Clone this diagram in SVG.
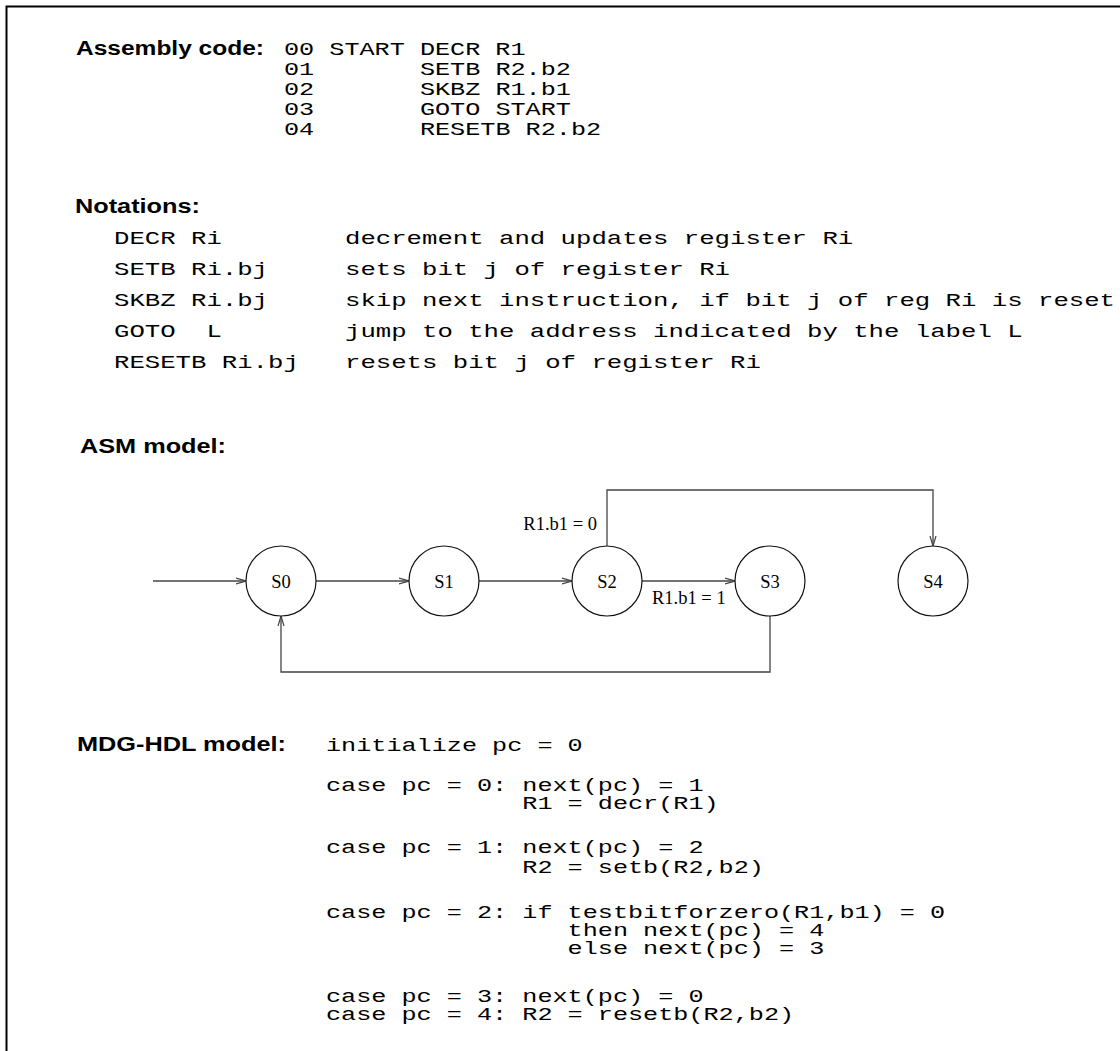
<svg xmlns="http://www.w3.org/2000/svg" width="1120" height="1051" viewBox="0 0 1120 1051">
  <defs>
    <style>
      .lbl { font-family: "Liberation Sans", Arial, sans-serif; font-weight: bold; font-size: 20px; fill: #000; }
      .mono { font-family: "Liberation Mono", "Courier New", monospace; font-size: 19px; fill: #000; }
      .tm { font-family: "Liberation Serif", "Times New Roman", serif; font-size: 18.5px; fill: #000; }
      .state circle { fill: #fff; stroke: #111; stroke-width: 1.2; }
      .conn { fill: none; stroke: #444; stroke-width: 1.3; }
      .frame { fill: none; stroke: #000; stroke-width: 2; }
    </style>
    <marker id="arr" viewBox="0 -4 10 8" refX="10" refY="0" markerWidth="10" markerHeight="8" markerUnits="userSpaceOnUse" orient="auto">
      <path d="M0,-3 L10,0 L0,3" fill="none" stroke="#444" stroke-width="1.2"/>
    </marker>
  </defs>

  <rect width="1120" height="1051" fill="#fff"/>
  <path class="frame" d="M6.5,1051 V6.5 H1120"/>

  <!-- assembly listing: address, label and instruction columns -->
  <g id="assembly">
    <text class="lbl" x="76" y="55" textLength="188" lengthAdjust="spacingAndGlyphs">Assembly code:</text>
    <g class="mono">
      <text x="284" y="55" textLength="30.2" lengthAdjust="spacingAndGlyphs">00</text>
      <text x="329.3" y="55" textLength="75.5" lengthAdjust="spacingAndGlyphs">START</text>
      <text x="419.9" y="55" textLength="105.7" lengthAdjust="spacingAndGlyphs">DECR R1</text>
      <text x="284" y="75" textLength="30.2" lengthAdjust="spacingAndGlyphs">01</text>
      <text x="419.9" y="75" textLength="151" lengthAdjust="spacingAndGlyphs">SETB R2.b2</text>
      <text x="284" y="95" textLength="30.2" lengthAdjust="spacingAndGlyphs">02</text>
      <text x="419.9" y="95" textLength="151" lengthAdjust="spacingAndGlyphs">SKBZ R1.b1</text>
      <text x="284" y="115" textLength="30.2" lengthAdjust="spacingAndGlyphs">03</text>
      <text x="419.9" y="115" textLength="151" lengthAdjust="spacingAndGlyphs">GOTO START</text>
      <text x="284" y="135" textLength="30.2" lengthAdjust="spacingAndGlyphs">04</text>
      <text x="419.9" y="135" textLength="181.2" lengthAdjust="spacingAndGlyphs">RESETB R2.b2</text>
    </g>
  </g>

  <!-- notation table: mnemonic column and description column -->
  <g id="notations">
    <text class="lbl" x="75" y="213" textLength="125" lengthAdjust="spacingAndGlyphs">Notations:</text>
    <g class="mono">
      <text x="114" y="244" textLength="107.8" lengthAdjust="spacingAndGlyphs">DECR Ri</text>
      <text x="345" y="244" textLength="508.2" lengthAdjust="spacingAndGlyphs">decrement and updates register Ri</text>
      <text x="114" y="275" textLength="154" lengthAdjust="spacingAndGlyphs">SETB Ri.bj</text>
      <text x="345" y="275" textLength="385" lengthAdjust="spacingAndGlyphs">sets bit j of register Ri</text>
      <text x="114" y="306" textLength="154" lengthAdjust="spacingAndGlyphs">SKBZ Ri.bj</text>
      <text x="345" y="306" textLength="770" lengthAdjust="spacingAndGlyphs">skip next instruction, if bit j of reg Ri is reset</text>
      <text x="114" y="337" textLength="61.6" lengthAdjust="spacingAndGlyphs">GOTO</text>
      <text x="206.4" y="337" textLength="15.4" lengthAdjust="spacingAndGlyphs">L</text>
      <text x="345" y="337" textLength="677.6" lengthAdjust="spacingAndGlyphs">jump to the address indicated by the label L</text>
      <text x="114" y="368" textLength="184.8" lengthAdjust="spacingAndGlyphs">RESETB Ri.bj</text>
      <text x="345" y="368" textLength="415.8" lengthAdjust="spacingAndGlyphs">resets bit j of register Ri</text>
    </g>
  </g>

  <!-- state machine -->
  <text id="asm-title" class="lbl" x="80" y="453" textLength="146" lengthAdjust="spacingAndGlyphs">ASM model:</text>

  <g id="connectors">
    <line class="conn" x1="153" y1="581" x2="246" y2="581" marker-end="url(#arr)"/>
    <line class="conn" x1="316" y1="581" x2="409" y2="581" marker-end="url(#arr)"/>
    <line class="conn" x1="479" y1="581" x2="572" y2="581" marker-end="url(#arr)"/>
    <line class="conn" x1="642" y1="581" x2="735" y2="581" marker-end="url(#arr)"/>
    <polyline class="conn" points="607,546 607,490 933,490 933,546" marker-end="url(#arr)"/>
    <polyline class="conn" points="770,616 770,672 281,672 281,616" marker-end="url(#arr)"/>
    <text class="tm" x="597" y="530" text-anchor="end">R1.b1 = 0</text>
    <text class="tm" x="652" y="604">R1.b1 = 1</text>
  </g>

  <g id="S0" class="state"><circle cx="281" cy="581" r="35"/><text class="tm" x="281" y="587.5" text-anchor="middle">S0</text></g>
  <g id="S1" class="state"><circle cx="444" cy="581" r="35"/><text class="tm" x="444" y="587.5" text-anchor="middle">S1</text></g>
  <g id="S2" class="state"><circle cx="607" cy="581" r="35"/><text class="tm" x="607" y="587.5" text-anchor="middle">S2</text></g>
  <g id="S3" class="state"><circle cx="770" cy="581" r="35"/><text class="tm" x="770" y="587.5" text-anchor="middle">S3</text></g>
  <g id="S4" class="state"><circle cx="933" cy="581" r="35"/><text class="tm" x="933" y="587.5" text-anchor="middle">S4</text></g>

  <!-- MDG-HDL description: case column and action column -->
  <g id="mdg">
    <text class="lbl" x="77" y="751" textLength="209" lengthAdjust="spacingAndGlyphs">MDG-HDL model:</text>
    <g class="mono">
      <text x="326" y="751" textLength="256.7" lengthAdjust="spacingAndGlyphs">initialize pc = 0</text>
      <text x="326" y="791" textLength="181.2" lengthAdjust="spacingAndGlyphs">case pc = 0:</text>
      <text x="522.3" y="791" textLength="181.2" lengthAdjust="spacingAndGlyphs">next(pc) = 1</text>
      <text x="522.3" y="809" textLength="196.3" lengthAdjust="spacingAndGlyphs">R1 = decr(R1)</text>
      <text x="326" y="853" textLength="181.2" lengthAdjust="spacingAndGlyphs">case pc = 1:</text>
      <text x="522.3" y="853" textLength="181.2" lengthAdjust="spacingAndGlyphs">next(pc) = 2</text>
      <text x="522.3" y="873" textLength="241.6" lengthAdjust="spacingAndGlyphs">R2 = setb(R2,b2)</text>
      <text x="326" y="918" textLength="181.2" lengthAdjust="spacingAndGlyphs">case pc = 2:</text>
      <text x="522.3" y="918" textLength="422.8" lengthAdjust="spacingAndGlyphs">if testbitforzero(R1,b1) = 0</text>
      <text x="567.6" y="936" textLength="256.7" lengthAdjust="spacingAndGlyphs">then next(pc) = 4</text>
      <text x="567.6" y="954" textLength="256.7" lengthAdjust="spacingAndGlyphs">else next(pc) = 3</text>
      <text x="326" y="1002" textLength="181.2" lengthAdjust="spacingAndGlyphs">case pc = 3:</text>
      <text x="522.3" y="1002" textLength="181.2" lengthAdjust="spacingAndGlyphs">next(pc) = 0</text>
      <text x="326" y="1020" textLength="181.2" lengthAdjust="spacingAndGlyphs">case pc = 4:</text>
      <text x="522.3" y="1020" textLength="271.8" lengthAdjust="spacingAndGlyphs">R2 = resetb(R2,b2)</text>
    </g>
  </g>
</svg>
